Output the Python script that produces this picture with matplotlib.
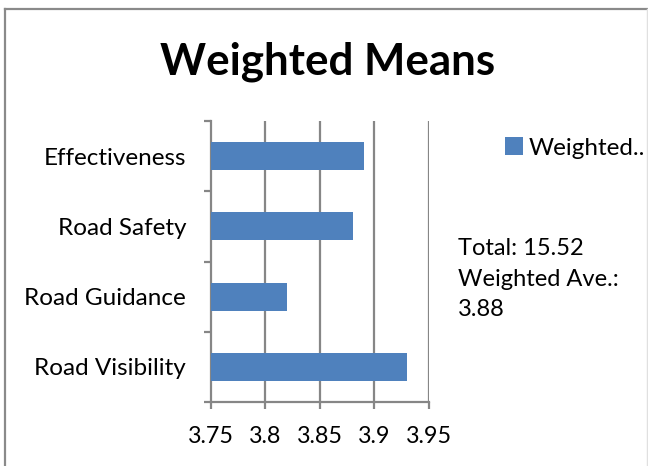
import matplotlib
matplotlib.use("Agg")
import matplotlib.pyplot as plt
from matplotlib.lines import Line2D
from matplotlib.patches import Patch
import numpy as np

# Data
categories = ["Effectiveness", "Road Safety", "Road Guidance", "Road Visibility"]
weighted_means = [3.89, 3.88, 3.82, 3.93]
series_label = "Weighted.."
x_ticks = [3.75, 3.8, 3.85, 3.9, 3.95]
x_tick_labels = ["3.75", "3.8", "3.85", "3.9", "3.95"]

BAR_COLOR = "#4F81BD"
GRID_COLOR = "#868686"
FONT = ["Lato", "DejaVu Sans"]

plt.rcParams["font.family"] = FONT

W, H = 648, 466
fig = plt.figure(figsize=(W / 100, H / 100), dpi=100)
fig.patch.set_facecolor("white")

# Chart-area border (left and top edges, faint right edge)
fig.add_artist(Line2D([5 / W, 5 / W], [0, 1 - 9 / H], transform=fig.transFigure,
                      color="#8a8a8a", lw=1.6))
fig.add_artist(Line2D([5 / W, 1], [1 - 9 / H, 1 - 9 / H], transform=fig.transFigure,
                      color="#8a8a8a", lw=1.6))
fig.add_artist(Line2D([646.5 / W, 646.5 / W], [0, 1 - 9 / H], transform=fig.transFigure,
                      color="#e0e0e0", lw=1.0))

left, right, top, bottom = 211, 429, 121, 402
ax = fig.add_axes([left / W, 1 - bottom / H, (right - left) / W, (bottom - top) / H])

n = len(categories)
ypos = np.arange(n)[::-1]
ax.barh(ypos, [v - x_ticks[0] for v in weighted_means], left=x_ticks[0],
        height=0.4, color=BAR_COLOR, zorder=3)

ax.set_xlim(x_ticks[0], x_ticks[-1])
ax.set_ylim(-0.5, n - 0.5)

# Vertical gridlines
for xv in x_ticks[1:]:
    ax.axvline(xv, color=GRID_COLOR, lw=1.6, zorder=1)

for s in ["top", "right"]:
    ax.spines[s].set_visible(False)
for s in ["left", "bottom"]:
    ax.spines[s].set_color(GRID_COLOR)
    ax.spines[s].set_linewidth(1.6)

ax.set_xticks(x_ticks)
ax.set_xticklabels(x_tick_labels)
ax.tick_params(axis="x", length=5, width=1.6, color=GRID_COLOR, pad=12.5,
               labelsize=16.8, labelcolor="black")

# Category boundaries carry the tick marks; labels sit at bar centers
ax.set_yticks(np.arange(-0.5, n, 1.0))
ax.set_yticklabels([])
ax.set_yticks(ypos, minor=True)
ax.set_yticklabels(categories, minor=True)
ax.tick_params(axis="y", which="major", length=5, width=1.6, color=GRID_COLOR)
ax.tick_params(axis="y", which="minor", length=0, pad=18, labelsize=17.5,
               labelcolor="black")
ax.set_facecolor("white")

fig.text(328 / W, 1 - 62 / H, "Weighted Means", ha="center", va="center",
         fontsize=31.6, fontweight="bold", color="black")

# Legend
fig.legend(handles=[Patch(facecolor=BAR_COLOR, edgecolor="none")],
           labels=[series_label], loc="center left",
           bbox_to_anchor=(505 / W, 1 - 148 / H), frameon=False,
           fontsize=17.5, handlelength=0.72, handleheight=0.72,
           handletextpad=0.25, borderaxespad=0, borderpad=0)

total = sum(weighted_means)
avg = total / len(weighted_means)
fig.text(458 / W, 1 - 279 / H, f"Total: {total:.2f}\nWeighted Ave.:\n{avg:.2f}",
         ha="left", va="center", fontsize=17, linespacing=1.55, color="black")

fig.savefig("out.png", dpi=100, facecolor="white")
